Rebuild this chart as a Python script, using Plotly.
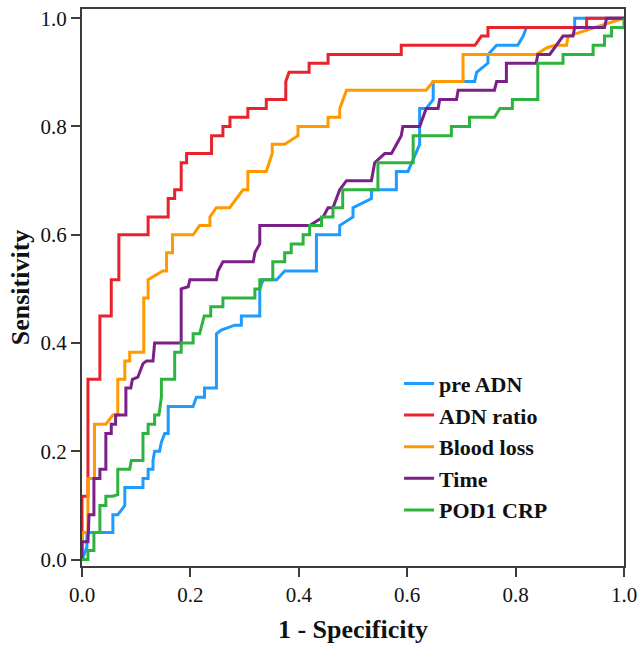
import plotly.graph_objects as go

# ROC curves (1 - Specificity, Sensitivity)
series_names = ["pre ADN", "ADN ratio", "Blood loss", "Time", "POD1 CRP"]
series_colors = ["#1E9BFF", "#E8232B", "#FF9900", "#7A2087", "#2DB33E"]

pre_adn_x = [0, 0.005, 0.009, 0.009, 0.057, 0.057, 0.066, 0.073, 0.079, 0.079, 0.1125, 0.1125, 0.122, 0.122,
             0.131, 0.131, 0.134, 0.143, 0.1465, 0.1526, 0.159, 0.159, 0.205, 0.211, 0.226, 0.226, 0.248, 0.248,
             0.257, 0.282, 0.294, 0.294, 0.328, 0.328, 0.334, 0.359, 0.374, 0.4325, 0.4325, 0.4755, 0.4755, 0.5,
             0.5, 0.506, 0.534, 0.534, 0.58, 0.58, 0.6015, 0.623, 0.623, 0.635, 0.648, 0.648, 0.7245, 0.728,
             0.749, 0.749, 0.765, 0.804, 0.814, 0.82, 0.909, 0.909, 1.0]
pre_adn_y = [0, 0.012, 0.023, 0.05, 0.05, 0.083, 0.083, 0.092, 0.1, 0.133, 0.133, 0.15, 0.15, 0.167,
             0.167, 0.183, 0.2, 0.2, 0.217, 0.233, 0.233, 0.283, 0.283, 0.3, 0.3, 0.317, 0.317, 0.417,
             0.424, 0.433, 0.433, 0.45, 0.45, 0.5, 0.517, 0.517, 0.533, 0.533, 0.6, 0.6, 0.617, 0.633,
             0.65, 0.653, 0.667, 0.683, 0.683, 0.717, 0.717, 0.767, 0.833, 0.833, 0.85, 0.883, 0.883, 0.9,
             0.917, 0.933, 0.95, 0.95, 0.967, 0.983, 0.983, 1.0, 1.0]

adn_ratio_x = [0, 0, 0.011, 0.011, 0.033, 0.033, 0.054, 0.054, 0.068, 0.068, 0.122, 0.122, 0.159, 0.159,
               0.171, 0.171, 0.183, 0.183, 0.193, 0.193, 0.239, 0.239, 0.26, 0.26, 0.273, 0.273, 0.306, 0.306,
               0.34, 0.34, 0.376, 0.376, 0.382, 0.419, 0.419, 0.454, 0.454, 0.589, 0.589, 0.725, 0.737, 0.749,
               0.749, 0.931, 0.931, 1.0]
adn_ratio_y = [0, 0.117, 0.117, 0.333, 0.333, 0.45, 0.45, 0.517, 0.517, 0.6, 0.6, 0.633, 0.633, 0.667,
               0.667, 0.683, 0.683, 0.733, 0.733, 0.75, 0.75, 0.783, 0.783, 0.8, 0.8, 0.817, 0.817, 0.833,
               0.833, 0.85, 0.85, 0.883, 0.9, 0.9, 0.917, 0.917, 0.933, 0.933, 0.95, 0.95, 0.967, 0.967,
               0.983, 0.983, 1.0, 1.0]

blood_loss_x = [0, 0, 0.011, 0.011, 0.023, 0.023, 0.044, 0.057, 0.066, 0.066, 0.079, 0.079, 0.088, 0.088,
                0.114, 0.114, 0.122, 0.122, 0.149, 0.156, 0.156, 0.167, 0.167, 0.205, 0.217, 0.236, 0.236,
                0.248, 0.2725, 0.297, 0.306, 0.306, 0.34, 0.351, 0.351, 0.374, 0.3985, 0.3985, 0.454, 0.454,
                0.4755, 0.4755, 0.488, 0.635, 0.648, 0.703, 0.703, 0.838, 0.857, 0.872, 0.894, 0.897, 1.0]
blood_loss_y = [0, 0.05, 0.05, 0.15, 0.15, 0.25, 0.25, 0.267, 0.267, 0.333, 0.333, 0.367, 0.367, 0.383,
                0.383, 0.483, 0.483, 0.517, 0.533, 0.533, 0.567, 0.567, 0.6, 0.6, 0.617, 0.617, 0.633,
                0.65, 0.65, 0.683, 0.683, 0.717, 0.717, 0.75, 0.767, 0.767, 0.783, 0.8, 0.8, 0.817,
                0.817, 0.833, 0.867, 0.867, 0.883, 0.883, 0.933, 0.933, 0.945, 0.95, 0.95, 0.967, 1.0]

time_x = [0, 0, 0.011, 0.013, 0.022, 0.022, 0.033, 0.033, 0.044, 0.044, 0.054, 0.054, 0.062, 0.062, 0.081,
          0.081, 0.09, 0.093, 0.103, 0.1125, 0.119, 0.131, 0.134, 0.183, 0.183, 0.196, 0.199, 0.248, 0.251,
          0.26, 0.316, 0.319, 0.328, 0.328, 0.42, 0.445, 0.454, 0.463, 0.4755, 0.488, 0.534, 0.54, 0.5585,
          0.571, 0.589, 0.592, 0.623, 0.635, 0.657, 0.66, 0.691, 0.694, 0.761, 0.765, 0.783, 0.783, 0.838,
          0.841, 0.863, 0.875, 0.8875, 0.906, 0.909, 0.964, 0.968, 1.0]
time_y = [0, 0.033, 0.033, 0.083, 0.083, 0.15, 0.15, 0.167, 0.167, 0.233, 0.233, 0.25, 0.25, 0.267, 0.267,
          0.317, 0.317, 0.333, 0.337, 0.362, 0.367, 0.367, 0.4, 0.4, 0.5, 0.504, 0.517, 0.517, 0.533,
          0.55, 0.55, 0.567, 0.583, 0.617, 0.617, 0.633, 0.65, 0.65, 0.683, 0.7, 0.7, 0.733, 0.75,
          0.75, 0.783, 0.8, 0.8, 0.833, 0.833, 0.85, 0.85, 0.867, 0.867, 0.883, 0.883, 0.917, 0.917,
          0.933, 0.933, 0.95, 0.967, 0.967, 0.983, 0.983, 1.0, 1.0]

pod1_crp_x = [0, 0.011, 0.011, 0.022, 0.022, 0.033, 0.033, 0.044, 0.044, 0.057, 0.066, 0.066, 0.088, 0.091,
              0.1125, 0.1125, 0.122, 0.122, 0.134, 0.134, 0.142, 0.1465, 0.1465, 0.171, 0.171, 0.183, 0.183,
              0.205, 0.205, 0.217, 0.2255, 0.2375, 0.2375, 0.26, 0.26, 0.319, 0.319, 0.328, 0.328, 0.352,
              0.352, 0.374, 0.374, 0.386, 0.386, 0.408, 0.408, 0.42, 0.42, 0.442, 0.442, 0.463, 0.463, 0.481,
              0.481, 0.546, 0.546, 0.611, 0.611, 0.6815, 0.6815, 0.715, 0.715, 0.761, 0.771, 0.794, 0.794,
              0.841, 0.841, 0.8875, 0.8875, 0.943, 0.943, 0.964, 0.964, 0.977, 0.977, 1.0, 1.0]
pod1_crp_y = [0, 0, 0.017, 0.017, 0.05, 0.05, 0.1, 0.1, 0.117, 0.117, 0.12, 0.167, 0.167, 0.183,
              0.183, 0.233, 0.233, 0.25, 0.25, 0.267, 0.267, 0.3, 0.333, 0.333, 0.383, 0.383, 0.4,
              0.4, 0.417, 0.417, 0.45, 0.45, 0.467, 0.467, 0.483, 0.483, 0.5, 0.5, 0.517, 0.517,
              0.55, 0.55, 0.567, 0.567, 0.583, 0.583, 0.6, 0.6, 0.617, 0.617, 0.633, 0.633, 0.65, 0.65,
              0.683, 0.683, 0.733, 0.733, 0.783, 0.783, 0.8, 0.8, 0.817, 0.817, 0.833, 0.833, 0.85,
              0.85, 0.917, 0.917, 0.933, 0.933, 0.95, 0.95, 0.967, 0.967, 0.983, 0.983, 1.0]

x_ticks = [0.0, 0.2, 0.4, 0.6, 0.8, 1.0]
y_ticks = [0.0, 0.2, 0.4, 0.6, 0.8, 1.0]
tick_labels = ["0.0", "0.2", "0.4", "0.6", "0.8", "1.0"]

xs = [pre_adn_x, adn_ratio_x, blood_loss_x, time_x, pod1_crp_x]
ys = [pre_adn_y, adn_ratio_y, blood_loss_y, time_y, pod1_crp_y]

SERIF = "Liberation Serif, Times New Roman, serif"

fig = go.Figure()
for name, color, x, y in zip(series_names, series_colors, xs, ys):
    fig.add_trace(go.Scatter(x=x, y=y, mode="lines", name=name,
                             line=dict(color=color, width=3)))

axis_common = dict(
    showline=True, mirror=True, linecolor="#3c3c3c", linewidth=2,
    ticks="outside", ticklen=9, tickwidth=2, tickcolor="#3c3c3c",
    showgrid=False, zeroline=False, automargin=False,
    tickfont=dict(family=SERIF, size=21, color="#111"),
)

fig.update_layout(
    width=638, height=645,
    margin=dict(l=82, r=14, t=9, b=79),
    paper_bgcolor="white", plot_bgcolor="white",
    xaxis=dict(range=[0, 1], tickvals=x_ticks, ticktext=tick_labels,
               title=dict(text="1 - Specificity", standoff=14,
                          font=dict(family=SERIF, size=26, color="#111", weight="bold")),
               **axis_common),
    yaxis=dict(range=[-0.0118, 1.017], tickvals=y_ticks, ticktext=tick_labels,
               title=dict(text="Sensitivity", standoff=3,
                          font=dict(family=SERIF, size=26, color="#111", weight="bold")),
               **axis_common),
    legend=dict(x=0.585, xanchor="left", y=0.365, yanchor="top",
                bgcolor="rgba(0,0,0,0)", borderwidth=0, tracegroupgap=0,
                font=dict(family=SERIF, size=22, color="#111", weight="bold")),
    showlegend=True,
)

# remove the default page margin so the 638x645 figure fills the window exactly
fig.write_html(
    "out.html",
    config={"displayModeBar": False},
    post_script="document.body.style.margin='0';document.body.style.overflow='hidden';",
)
